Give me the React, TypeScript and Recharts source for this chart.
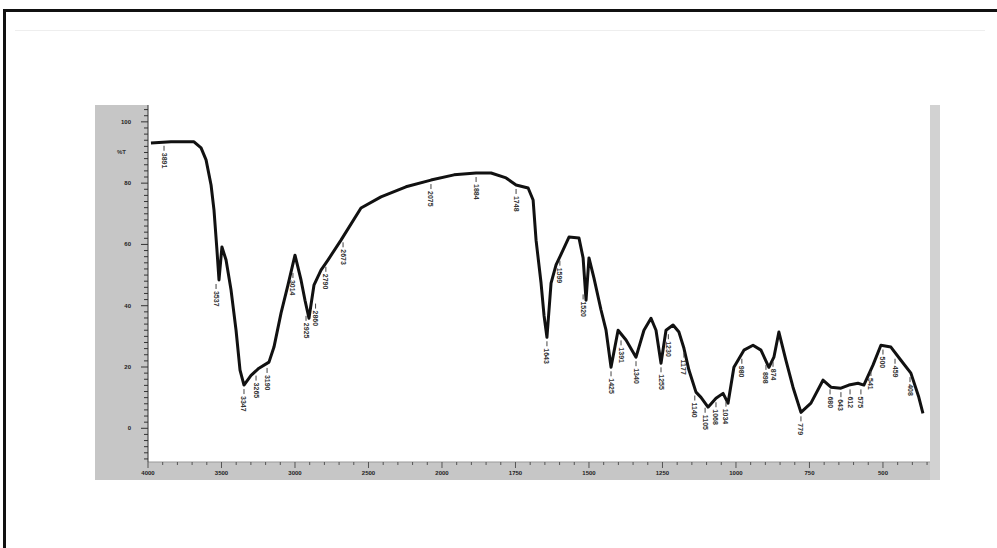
import { ComposedChart, Line, Scatter, XAxis, YAxis, CartesianGrid } from 'recharts'

// spectrum points, wavenumber (cm-1) against transmittance (%)
const wavenumbers = [
  3980, 3844, 3687, 3639, 3605, 3571, 3551, 3531, 3517, 3497, 3469, 3435, 3401, 3374, 3347, 3299,
  3245, 3177, 3143, 3095, 3048, 3000, 2959, 2932, 2905, 2871, 2823, 2776, 2687, 2551, 2415, 2245,
  2075, 1959, 1884, 1833, 1782, 1748, 1707, 1690, 1680, 1663, 1653, 1643, 1629, 1612, 1588, 1568,
  1534, 1520, 1510, 1500, 1483, 1459, 1442, 1425, 1401, 1374, 1340, 1313, 1289, 1272, 1255, 1238,
  1214, 1194, 1177, 1160, 1136, 1119, 1095, 1068, 1044, 1027, 1007, 973, 942, 915, 888, 871, 854,
  830, 806, 779, 745, 704, 677, 643, 616, 585, 565, 534, 507, 473, 439, 405, 378, 364,
]
const transmittance = [
  93.1, 93.5, 93.5, 91.5, 87.6, 79.4, 71.2, 58.2, 48.4, 59.2, 54.9, 45.1, 32.0, 19.0, 14.1, 17.3,
  19.6, 21.6, 26.5, 37.6, 46.7, 56.5, 48.4, 41.8, 35.9, 46.7, 51.6, 54.9, 61.4, 71.9, 75.5, 78.8,
  81.0, 82.7, 83.3, 83.3, 81.7, 79.4, 78.4, 74.5, 61.4, 47.4, 36.9, 29.7, 47.4, 53.3, 58.2, 62.4,
  62.1, 55.6, 41.8, 55.6, 49.0, 38.6, 32.0, 19.9, 32.0, 28.8, 23.2, 32.0, 35.9, 32.0, 21.2, 32.0,
  33.7, 31.4, 26.1, 19.0, 11.8, 10.1, 6.9, 9.8, 11.4, 8.2, 19.9, 25.5, 27.1, 25.5, 19.9, 23.2, 31.4,
  22.2, 13.4, 5.2, 8.2, 15.7, 13.4, 13.1, 14.1, 14.7, 14.1, 20.6, 27.1, 26.5, 22.2, 18.0, 10.1, 4.9,
]

// marked peaks
const peakWavenumbers = [
  3891, 3537, 3347, 3265, 3190, 3014, 2925, 2860, 2790, 2673, 2075, 1884, 1748, 1643, 1599, 1520,
  1425, 1391, 1340, 1255, 1230, 1177, 1140, 1105, 1068, 1034, 980, 898, 874, 779, 680, 643, 612,
  575, 541, 500, 459, 408,
]
const peakTransmittance = [
  93.5, 48.4, 14.1, 18.5, 21.0, 52, 38, 42, 54, 62, 81, 83.3, 79.4, 29.7, 56, 45,
  19.9, 30, 23.2, 21.2, 32, 26, 12, 8, 9.8, 10, 24, 22, 23, 5.2, 14, 13.1, 14,
  14, 20, 27, 24, 18,
]

const xTickLabels = [4000, 3500, 3000, 2500, 2000, 1750, 1500, 1250, 1000, 750, 500]
const yTickLabels = [0, 20, 40, 60, 80, 100]

// axis is 500 cm-1 per division above 2000, 250 below
const toPos = (wn: number) => (wn >= 2000 ? (4000 - wn) / 500 : 4 + (2000 - wn) / 250)

const spectrum = wavenumbers.map((wn, i) => ({ p: toPos(wn), T: transmittance[i] }))
const peaks = peakWavenumbers.map((wn, i) => ({ p: toPos(wn), T: peakTransmittance[i], wn }))

const majorX = xTickLabels.map(toPos)
const xTicks: number[] = []
for (let v = 0; v <= 10.6; v += 0.2) xTicks.push(Math.round(v * 10) / 10)
const yTicks: number[] = []
for (let v = -10; v <= 104; v += 2) yTicks.push(v)

const XTick = (props: any) => {
  const { x, y, payload } = props
  const idx = majorX.findIndex(m => Math.abs(m - payload.value) < 1e-6)
  const major = idx >= 0
  return (
    <g>
      <line x1={x} x2={x} y1={y} y2={y + (major ? 6 : 3)} stroke="#555" strokeWidth={1} />
      {major && (
        <text x={x} y={y + 13} textAnchor="middle" fontSize={6} fontWeight="bold" fill="#222">
          {xTickLabels[idx]}
        </text>
      )}
    </g>
  )
}

const YTick = (props: any) => {
  const { x, y, payload } = props
  const major = yTickLabels.includes(payload.value)
  return (
    <g>
      <line x1={x - (major ? 7 : 4)} x2={x} y1={y} y2={y} stroke="#333" strokeWidth={1} />
      {major && (
        <text x={x - 17} y={y + 2} textAnchor="end" fontSize={6} fontWeight="bold" fill="#222">
          {payload.value}
        </text>
      )}
    </g>
  )
}

const PeakMark = (props: any) => {
  const { cx, cy, payload } = props
  return (
    <g>
      <line x1={cx} x2={cx} y1={cy + 4} y2={cy + 9} stroke="#444" strokeWidth={1} />
      <text
        transform={`translate(${cx - 2.5},${cy + 11}) rotate(90)`}
        fontSize={7}
        fontWeight="bold"
        fill="#333"
      >
        {payload.wn}
      </text>
    </g>
  )
}

export default function App() {
  return (
    <div
      style={{
        position: 'absolute',
        left: 0,
        top: 0,
        width: 997,
        height: 548,
        background: '#fff',
        fontFamily: '"Liberation Sans", Arial, sans-serif',
        overflow: 'hidden',
      }}
    >
      <div
        style={{
          position: 'absolute',
          left: 3,
          top: 9,
          width: 994,
          height: 539,
          borderTop: '3px solid #111',
          borderLeft: '3px solid #111',
          boxSizing: 'border-box',
        }}
      />
      <div style={{ position: 'absolute', left: 15, top: 30, width: 970, height: 1, background: '#eee' }} />
      <div style={{ position: 'absolute', left: 95, top: 105, width: 845, height: 375, background: '#c6c6c6' }}>
        <div style={{ position: 'absolute', left: 835, top: 0, width: 10, height: 375, background: '#d2d2d2' }} />
        <div
          style={{
            position: 'absolute',
            left: 22,
            top: 44,
            fontSize: 6,
            fontWeight: 'bold',
            color: '#333',
          }}
        >
          %T
        </div>
        <ComposedChart width={845} height={375} margin={{ top: 0, right: 10, bottom: 0, left: 0 }}>
          <CartesianGrid fill="#fff" stroke="none" horizontal={false} vertical={false} />
          <XAxis
            type="number"
            dataKey="p"
            domain={[0, 10.64]}
            ticks={xTicks}
            interval={0}
            height={18}
            allowDataOverflow
            tickSize={0}
            tickMargin={0}
            tickLine={false}
            axisLine={{ stroke: '#999' }}
            tick={<XTick />}
          />
          <YAxis
            type="number"
            dataKey="T"
            domain={[-11, 105.5]}
            ticks={yTicks}
            interval={0}
            width={53}
            allowDataOverflow
            tickSize={0}
            tickMargin={0}
            tickLine={false}
            axisLine={{ stroke: '#333' }}
            tick={<YTick />}
          />
          <Line
            data={spectrum}
            dataKey="T"
            type="linear"
            stroke="#111"
            strokeWidth={3}
            strokeLinejoin="round"
            dot={false}
            isAnimationActive={false}
          />
          <Scatter data={peaks} dataKey="T" shape={<PeakMark />} isAnimationActive={false} />
        </ComposedChart>
      </div>
    </div>
  )
}
